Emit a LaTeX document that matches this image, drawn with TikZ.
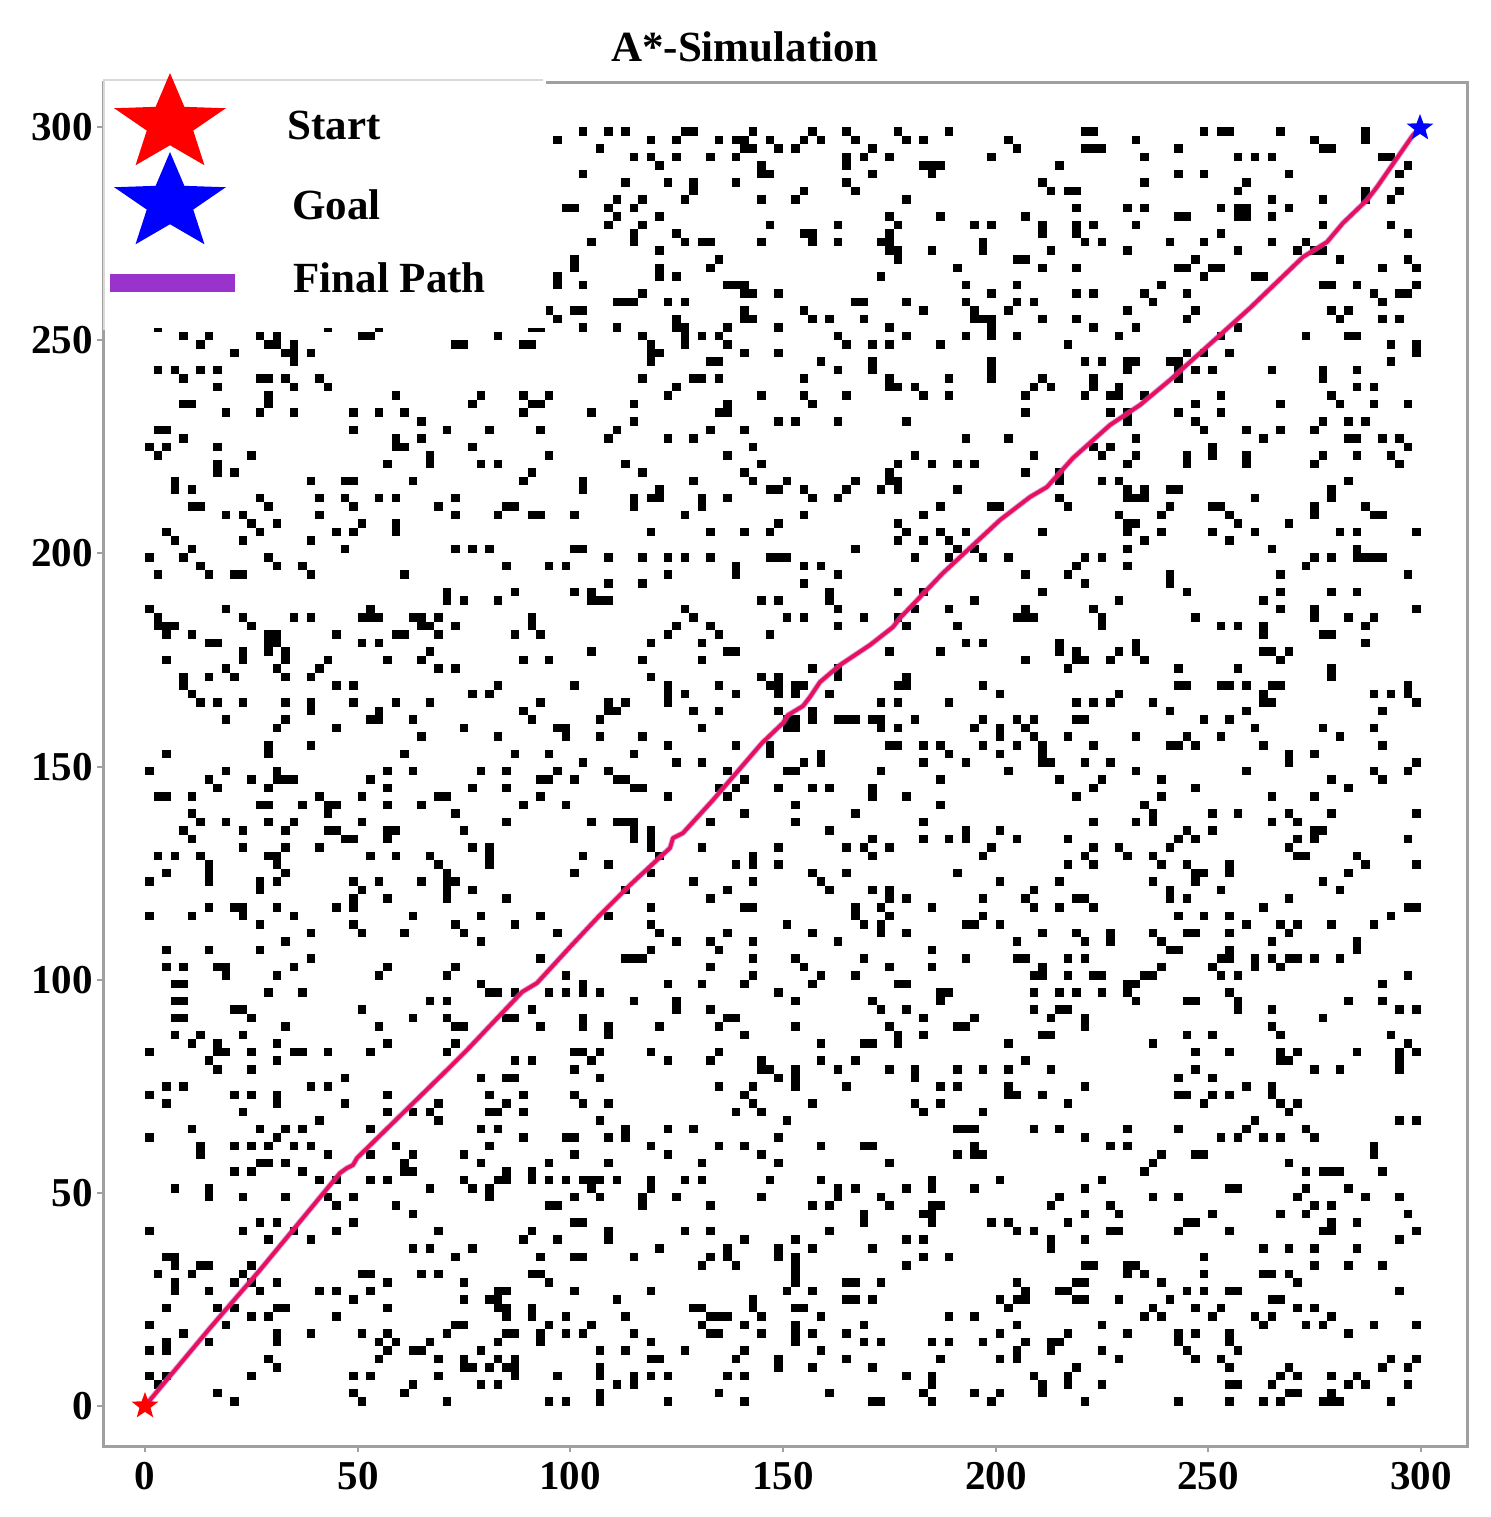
\documentclass[tikz,border=0pt]{standalone}
\usepackage{fontspec}
\setmainfont{Liberation Serif}
\usetikzlibrary{shapes.geometric}
\definecolor{framegray}{RGB}{160,160,160}
\definecolor{pathred}{RGB}{232,16,86}
\definecolor{halo}{RGB}{190,90,220}
\definecolor{legpurple}{RGB}{153,51,204}
\definecolor{starred}{RGB}{255,0,0}
\definecolor{starblue}{RGB}{0,0,255}
\tikzset{
  ticklabel/.style={font=\fontsize{20.5}{24}\selectfont\bfseries, inner sep=0pt},
  legtext/.style={font=\fontsize{21.5}{25}\selectfont\bfseries, anchor=west, inner sep=0pt},
  obst/.style={fill=black},
  starmark/.style={star, star points=5, star point ratio=2.4, inner sep=0pt, draw=none},
}
\begin{document}
\begin{tikzpicture}[x=0.5pt,y=-0.5pt]
\useasboundingbox (0,0) rectangle (1491,1517);
\fill[white] (0,0) rectangle (1491,1517);
% title
\node[font=\fontsize{21.5}{25}\selectfont\bfseries, inner sep=0pt] (title) at (745,47) {A*-Simulation};
% data region
\begin{scope}[shift={(145,1406)}, x=2.1265pt, y=2.1315pt]
  \pgfmathsetseed{4242}
  \foreach \i in {1,...,2500}{
    \pgfmathrandominteger{\rx}{0}{149}
    \pgfmathrandominteger{\ry}{0}{149}
    \fill[obst] ({2*\rx},{2*\ry}) rectangle ++(2.0,2.0);
  }
\end{scope}
% frame
\draw[framegray, line width=1.5pt] (103,82) rectangle (1467,1446);
% ticks and labels
\foreach \v/\px in {0/145,50/358,100/570,150/783,200/996,250/1208,300/1421}{
  \draw[framegray, line width=0.8pt] (\px,1446) -- (\px,1452);
  \node[ticklabel] (xl\v) at (\px,1476) {\v};
}
\foreach \v/\py in {0/1406,50/1193,100/980,150/767,200/553,250/340,300/127}{
  \draw[framegray, line width=0.8pt] (103,\py) -- (97,\py);
  \node[ticklabel, anchor=east] (yl\v) at (93,\py) {\v};
}
% legend
\fill[white] (104,80) rectangle (546,328);
\draw[framegray!40, line width=1pt] (104,330) -- (104,80) -- (543,80);
\node[starmark, fill=starred, minimum size=51pt, xscale=1.15] (lstart) at (170,124) {};
\node[starmark, fill=starblue, minimum size=51pt, xscale=1.15] (lgoal) at (170,203) {};
\fill[legpurple] (110,274) rectangle (235,292);
\node[legtext] (tstart) at (287,125) {Start};
\node[legtext] (tgoal) at (292,205) {Goal};
\node[legtext] (tpath) at (293,278) {Final Path};
% final path
\def\pathpts{(145,1406) -- (210,1328) -- (260,1270) -- (340,1173) -- (347,1168) -- (353,1165) -- (357,1158) -- (450,1067) -- (467,1050) -- (522,992) -- (537,983) -- (570,947) -- (600,915) -- (630,885) -- (670,848) -- (673,838) -- (683,833) -- (713,800) -- (762,743) -- (783,723) -- (788,715) -- (803,706) -- (810,697) -- (820,682) -- (840,665) -- (870,645) -- (893,627) -- (900,618) -- (943,573) -- (1000,520) -- (1030,497) -- (1047,487) -- (1073,458) -- (1110,425) -- (1140,405) -- (1170,380) -- (1250,308) -- (1303,257) -- (1327,242) -- (1343,223) -- (1367,200) -- (1377,187) -- (1413,135) -- (1420,128)}
\draw[halo, line width=2.8pt, line join=round, opacity=0.6] \pathpts;
\draw[pathred, line width=1.9pt, line join=round] \pathpts;
% start and goal
\node[starmark, fill=starred, minimum size=14pt] (start) at (145,1406) {};
\node[starmark, fill=starblue, minimum size=14pt] (goal) at (1420,128) {};
\end{tikzpicture}
\end{document}
